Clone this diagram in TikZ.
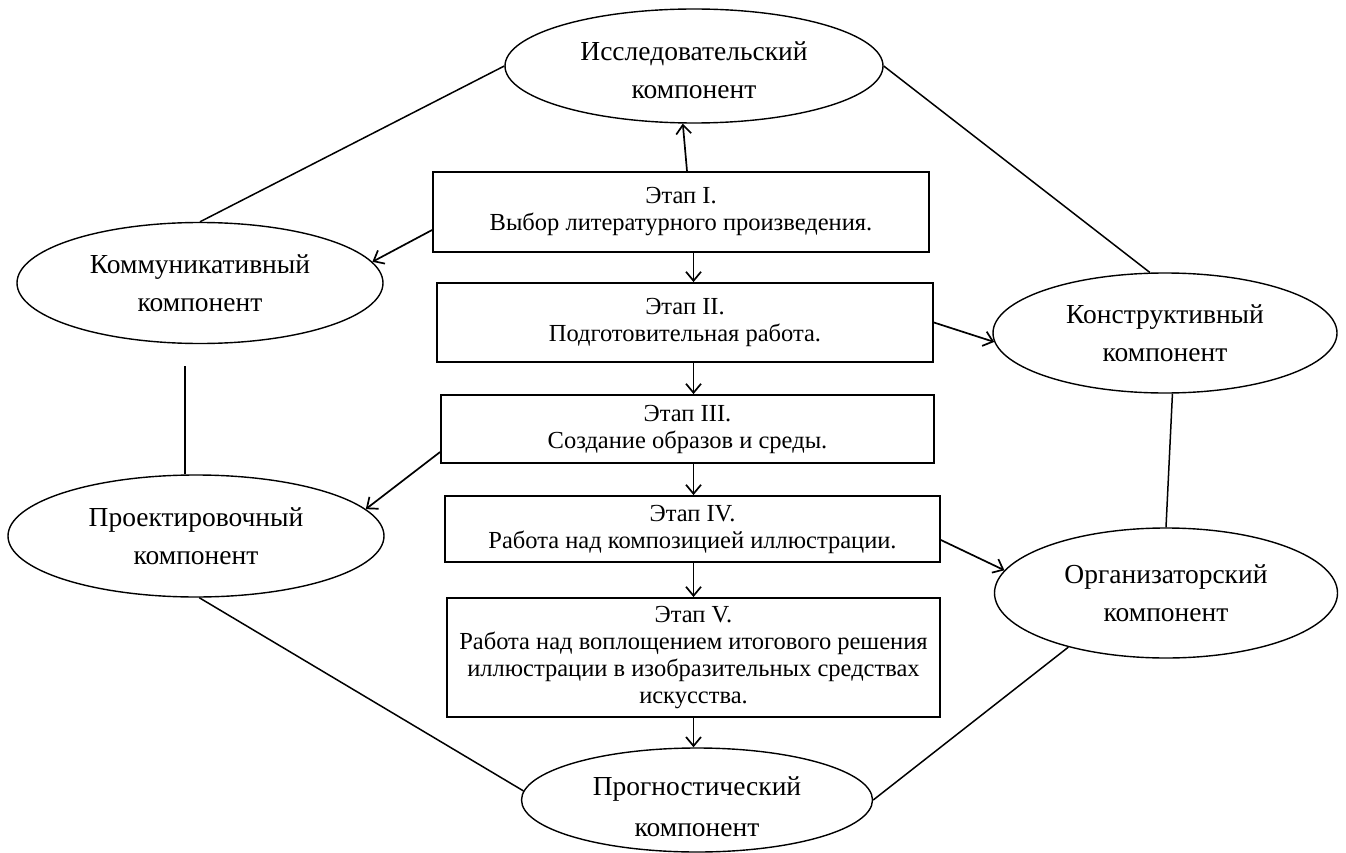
\documentclass[tikz,border=0pt]{standalone}
\usepackage{fontspec}
\setmainfont{Liberation Serif}
\usetikzlibrary{shapes.geometric,arrows.meta}
\tikzset{
  stagebox/.style={draw, line width=1.8pt, inner sep=0pt, align=center,
    font=\fontsize{24.5}{27}\selectfont},
  comp/.style={ellipse, draw, line width=1.4pt, inner sep=0pt, align=center,
    font=\fontsize{27.5}{38}\selectfont},
  arr/.style={line width=1.7pt, -{Straight Barb[length=9pt,width=15pt,line width=1.7pt]}},
  link/.style={line width=1.5pt}
}
\begin{document}
\begin{tikzpicture}[x=1pt,y=-1pt]
\useasboundingbox (0,0) rectangle (1346,853);
% components
\node[comp, minimum width=378pt, minimum height=114pt] (res) at (694,66) {\rule{0pt}{28pt}Исследовательский\\компонент};
\node[comp, minimum width=366pt, minimum height=121pt] (komm) at (200,283) {Коммуникативный\\компонент};
\node[comp, minimum width=344pt, minimum height=120pt] (konstr) at (1165,333) {Конструктивный\\компонент};
\node[comp, minimum width=376pt, minimum height=122pt] (proekt) at (196,536) {Проектировочный\\компонент};
\node[comp, minimum width=343pt, minimum height=130pt] (org) at (1166,593) {Организаторский\\компонент};
\node[comp, minimum width=351pt, minimum height=104pt,
  label={[align=center, inner sep=0pt, font=\fontsize{27.5}{41}\selectfont, yshift=-7pt]center:Прогностический\\компонент}] (prog) at (697,800) {};
% stages
\node[stagebox, minimum width=496pt, minimum height=80pt] (b1) at (681,212) {Этап I.\\Выбор литературного произведения.};
\node[stagebox, minimum width=496pt, minimum height=79pt] (b2) at (685,322.5) {Этап II.\\Подготовительная работа.};
\node[stagebox, minimum width=493pt, minimum height=68pt] (b3) at (687.5,429) {Этап III.\\Создание образов и среды.};
\node[stagebox, minimum width=495pt, minimum height=66pt] (b4) at (692.5,529) {Этап IV.\\Работа над композицией иллюстрации.};
\node[stagebox, minimum width=493pt, minimum height=119pt] (b5) at (693.5,657.5) {Этап V.\\Работа над воплощением итогового решения\\иллюстрации в изобразительных средствах\\искусства.};
% arrows
\draw[arr] ([xshift=6pt]b1.north) -- (res.259);
\draw[arr] ([yshift=-18pt]b1.west) -- (komm.7);
\draw[arr] (b2.east) -- (konstr.183);
\draw[arr] ([yshift=-23pt]b3.west) -- (proekt.9);
\draw[arr] ([yshift=-11pt]b4.east) -- (org.172);
\draw[arr] (b1.south -| b5.north) -- (b2.north -| b5.north);
\draw[arr] (b2.south -| b5.north) -- (b3.north -| b5.north);
\draw[arr] (b3.south -| b5.north) -- (b4.north -| b5.north);
\draw[arr] (b4.south -| b5.north) -- (b5.north);
\draw[arr] (b5.south) -- (b5.south |- prog.north);
% links
\draw[link] (res.west) -- (komm.north);
\draw[link] (res.east) -- (konstr.104);
\draw[link] ([xshift=-15pt,yshift=-22pt]komm.south) -- ([xshift=-11pt]proekt.north);
\draw[link] (konstr.277) -- (org.north);
\draw[link] (proekt.273) -- (prog.177);
\draw[link] (org.209) -- (prog.east);
\end{tikzpicture}
\end{document}
